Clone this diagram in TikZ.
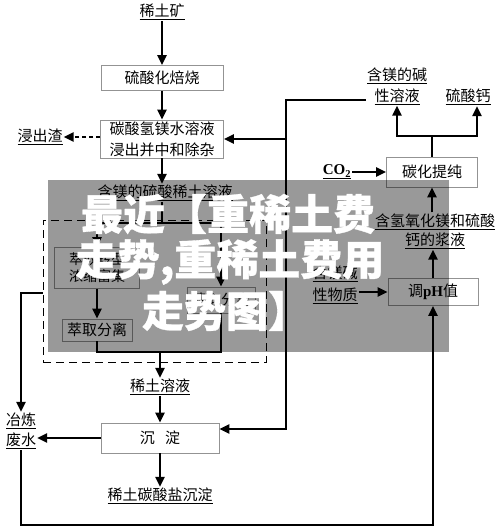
\documentclass[tikz,border=0pt]{standalone}
\usepackage{fontspec}
\setmainfont{Noto Sans CJK SC}
\newfontfamily\lat{Liberation Serif}
\newfontfamily\ovfont{Noto Sans CJK SC}[BoldFeatures={FakeBold=0.8}]
\usetikzlibrary{arrows.meta}
\begin{document}
\begin{tikzpicture}[x=1pt,y=-1pt,
  lab/.style={inner sep=1pt, font=\fontsize{15}{19}\selectfont, align=center},
  pbox/.style={draw=gray!85, line width=0.8pt, fill=white, inner sep=0pt, align=center, font=\fontsize{15}{21}\selectfont},
  flow/.style={line width=2.6pt, -{Triangle[length=10pt,width=9pt]}},
  lineb/.style={line width=2.6pt},
  dflow/.style={line width=2.6pt, dash pattern=on 4pt off 3pt, -{Triangle[length=10pt,width=9pt]}},
  dashbox/.style={draw, line width=1pt, dash pattern=on 8pt off 5pt, inner sep=0pt},
  ovl/.style={text=white, font=\ovfont\fontsize{42}{48}\selectfont\bfseries, inner sep=0pt}
]
\useasboundingbox (0,0) rectangle (500,532);
% left column
\node[lab] (ore) at (162,12) {\underline{稀土矿}};
\node[pbox, minimum width=122pt, minimum height=25pt] (roast) at (162,78) {硫酸化焙烧};
\node[pbox, minimum width=123pt, minimum height=38pt] (leach) at (162,139) {碳酸氢镁水溶液\\浸出并中和除杂};
\node[lab] (slag) at (40,137) {\underline{浸出渣}};
\node[lab] (sol1) at (165,193) {\underline{含镁的硫酸稀土溶液}};
\node[dashbox, minimum width=223pt, minimum height=142pt] (dbox) at (154.5,291) {};
\node[pbox, minimum width=85pt, minimum height=41pt, font=\fontsize{14}{17}\selectfont] (exL) at (97,268) {萃取转型\\浓缩富集};
\node[pbox, minimum width=70pt, minimum height=22pt] (sepL) at (97,330) {萃取分离};
\node[pbox, minimum width=68pt, minimum height=26pt] (sepR) at (221,300) {萃取分离};
\node[lab] (sol2) at (160,387) {\underline{稀土溶液}};
\node[pbox, minimum width=118pt, minimum height=30pt] (prec) at (160,438) {沉\hspace{0.7em}淀};
\node[lab] (prod) at (160,496) {\underline{稀土碳酸盐沉淀}};
\node[lab, font=\fontsize{15}{20}\selectfont] (waste) at (21,431) {\underline{冶炼}\\\underline{废水}};
% right column
\node[lab, font=\fontsize{15}{21}\selectfont] (mgsol) at (397,86) {\underline{含镁的碱}\\\underline{性溶液}};
\node[lab] (caso4) at (468,97) {\underline{硫酸钙}};
\node[pbox, minimum width=91pt, minimum height=30pt] (carb) at (432,172) {碳化提纯};
\node[lab] (co2) at (337,172) {\underline{{\lat\bfseries CO\textsubscript{2}}}};
\node[lab] (slurry) at (435,231) {\underline{含氢氧化镁和硫酸}\\\underline{钙的浆液}};
\node[pbox, minimum width=90pt, minimum height=27pt] (ph) at (433,292) {调{\lat\bfseries pH}值};
\node[lab, font=\fontsize{15}{22}\selectfont] (alk) at (335,285) {\underline{含镁碱}\\\underline{性物质}};
% coordinates
\coordinate (s0) at (162,223);
\coordinate (sL) at (97,223);
\coordinate (sR) at (221,223);
\coordinate (mL) at (97,352);
\coordinate (mR) at (221,352);
\coordinate (m0) at (160,352);
\coordinate (wl) at (21,293);
\coordinate (bl) at (21,525);
\coordinate (br) at (433,525);
\coordinate (la) at (286,100);
\coordinate (lb) at (286,429);
\coordinate (lc) at (286,139);
\coordinate (t0) at (432,136);
\coordinate (tL) at (397,136);
\coordinate (tR) at (477,136);
% connectors
\draw[flow] (ore) -- (roast);
\draw[flow] (roast) -- (leach);
\draw[dflow] (leach.west |- slag) -- (slag.east);
\draw[flow] (leach.south) -- (leach.south |- sol1.north);
\draw[lineb] (s0 |- sol1.south) -- (s0);
\draw[flow] (s0) -- (sL) -- (exL.north);
\draw[flow] (s0) -- (sR) -- (sepR.north);
\draw[flow] (exL) -- (sepL);
\draw[lineb] (sepL.south) -- (mL) -- (mR) -- (sepR.south);
\draw[flow] (m0) -- (m0 |- sol2.north);
\draw[flow] (sol2) -- (prec);
\draw[flow] (prec) -- (prod);
\draw[flow] (prec.west) -- (prec.west -| waste.east);
\draw[flow] (dbox.west |- wl) -- (wl) -- (waste.north);
\draw[flow] (waste.south) -- (bl) -- (br) -- (ph.south);
\draw[flow] (mgsol.west |- la) -- (la) -- (lb) -- (lb -| prec.east);
\draw[flow] (lc) -- (lc -| leach.east);
\draw[flow] (co2) -- (carb);
\draw[lineb] (carb.north) -- (t0);
\draw[flow] (t0) -- (tL) -- (tL |- mgsol.south);
\draw[flow] (t0) -- (tR) -- (tR |- caso4.south);
\draw[flow] (carb.south |- slurry.north) -- (carb.south);
\draw[flow] (ph.north) -- (ph.north |- slurry.south);
\draw[flow] (alk.east |- ph) -- (ph.west);
% overlay
\fill[black, opacity=0.4] (48,180) rectangle (449,352);
\node[ovl] (ov1) at (228,214) {最近【重稀土费};
\node[ovl] (ov2) at (230,262) {走势,重稀土费用};
\node[ovl] (ov3) at (226,311) {走势图】};
\end{tikzpicture}
\end{document}
